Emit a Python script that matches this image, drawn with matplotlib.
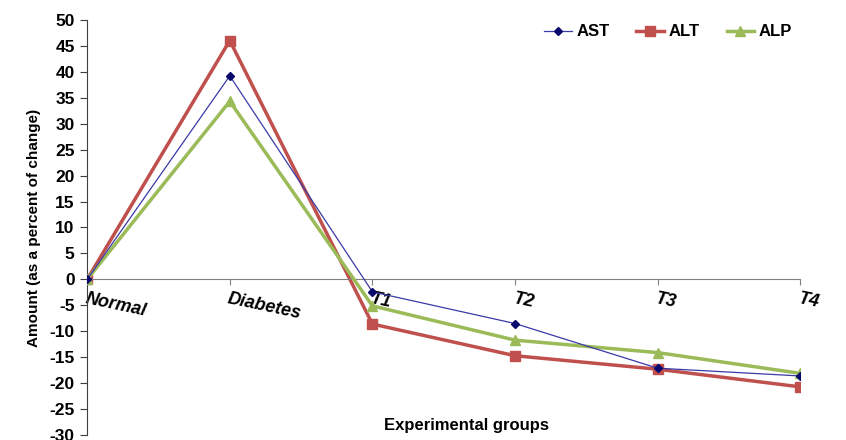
import numpy as np
import matplotlib.pyplot as plt

plt.rcParams['font.family'] = ['Liberation Sans', 'DejaVu Sans']
plt.rcParams['axes.unicode_minus'] = False

groups = ['Normal', 'Diabetes', 'T1', 'T2', 'T3', 'T4']
ast = [0, 39.2, -2.4, -8.5, -17.1, -18.6]
alt = [0, 46.0, -8.6, -14.7, -17.3, -20.7]
alp = [0, 34.3, -5.1, -11.7, -14.1, -18.1]

fig = plt.figure(figsize=(8.46, 4.40), dpi=100)
ax = fig.add_axes([0.103, 0.011, 0.843, 0.944])

# x axis sits on the zero line
ax.spines['top'].set_visible(False)
ax.spines['right'].set_visible(False)
ax.spines['bottom'].set_position(('data', 0))
ax.spines['bottom'].set_color('#808080')
ax.spines['left'].set_color('#404040')

x = np.arange(len(groups))
ax.plot(x, ast, color='#3a3aa8', lw=0.9, marker='D', ms=4,
        mfc='#0a0a6e', mec='#0a0a6e', label='AST', zorder=4)
ax.plot(x, alt, color='#c0504d', lw=2.5, marker='s', ms=7,
        label='ALT', zorder=2)
ax.plot(x, alp, color='#9bbb59', lw=2.5, marker='^', ms=7,
        label='ALP', zorder=3)

ax.set_xlim(0, 5)
ax.set_ylim(-30, 50)
ax.set_yticks(np.arange(-30, 51, 5))
ax.set_xticks(x)
ax.set_xticklabels(groups, rotation=-12, ha='left', va='top',
                   rotation_mode='anchor',
                   fontstyle='italic', fontweight='bold', fontsize=13)
for lbl in ax.get_yticklabels():
    lbl.set_fontweight('bold')
    lbl.set_fontsize(12.5)

ax.tick_params(axis='x', direction='out', length=4, color='#808080', pad=4)
ax.tick_params(axis='y', direction='out', length=5, color='#404040', pad=4)

ax.set_ylabel('Amount (as a percent of change)', fontweight='bold',
              fontsize=11, labelpad=6)
fig.text(0.551, 0.033, 'Experimental groups', ha='center', va='center',
         fontweight='bold', fontsize=12)

ax.legend(loc='upper right', bbox_to_anchor=(1.01, 1.025), ncol=3,
          frameon=False, prop={'weight': 'bold', 'size': 12},
          handlelength=1.65, columnspacing=1.6, handletextpad=0.3)

fig.savefig('out.png', dpi=100)
